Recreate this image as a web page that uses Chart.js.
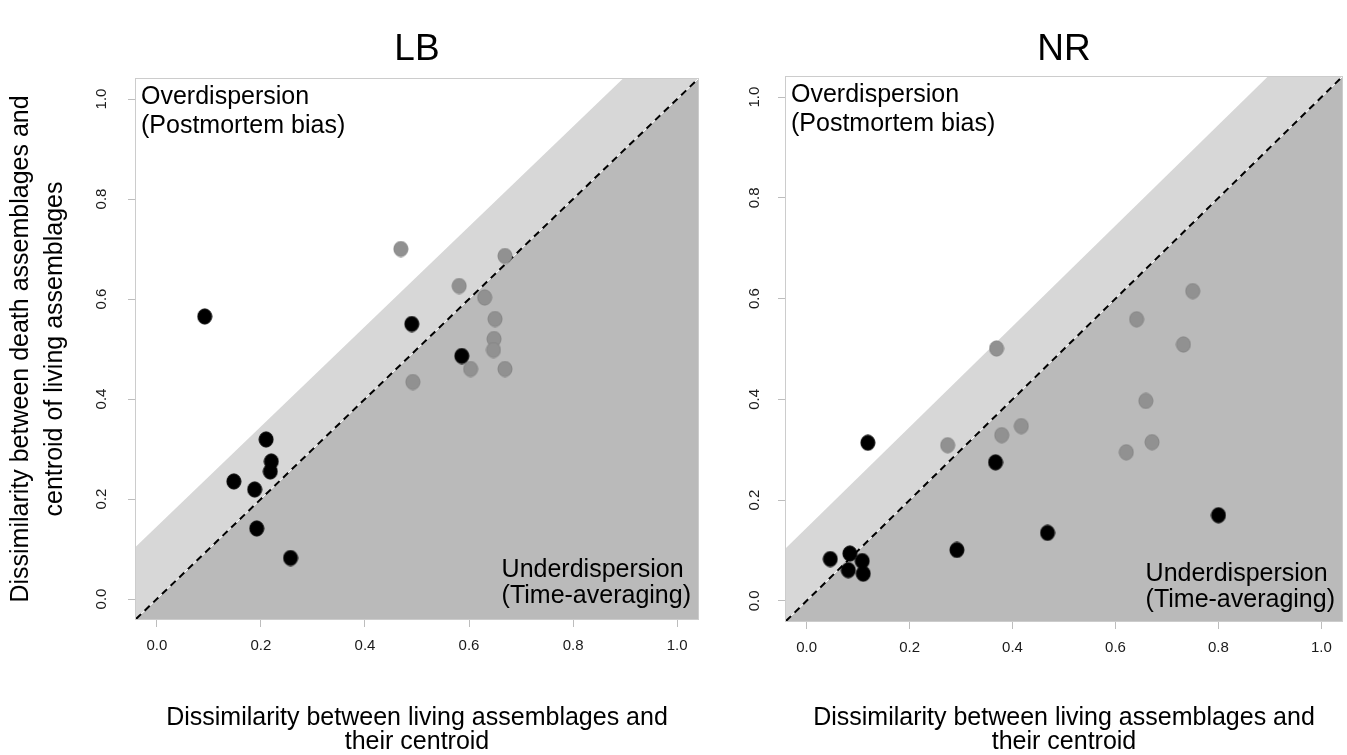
<!DOCTYPE html>
<html>
<head>
<meta charset="utf-8">
<script src="https://cdn.jsdelivr.net/npm/chart.js@4.4.1/dist/chart.umd.min.js"></script>
<style>
    body { margin: 0; background: #ffffff; }
    #wrap { position: relative; width: 1347px; height: 755px; overflow: hidden; }
    #lbChart { position: absolute; left: 0; top: 0; }
    #nrChart { position: absolute; left: 720px; top: 0; }
</style>
</head>
<body>
<div id="wrap">
    <canvas id="lbChart" width="720" height="755"></canvas>
    <canvas id="nrChart" width="627" height="755"></canvas>
</div>
<script>
// nilai sumbu (tick) dan batas plot
var tickValues = [0, 0.2, 0.4, 0.6, 0.8, 1.0];
var axisMin = -0.04;
var axisMax = 1.04;
var bandOffset = 0.145; // lebar pita abu-abu muda di atas garis 1:1

// LB - titik hitam
var lbBlackX = [0.092, 0.490, 0.586, 0.210, 0.220, 0.218, 0.148, 0.188, 0.192, 0.257];
var lbBlackY = [0.565, 0.550, 0.486, 0.319, 0.275, 0.255, 0.235, 0.219, 0.141, 0.082];
// LB - titik abu-abu
var lbGreyX = [0.469, 0.669, 0.581, 0.630, 0.650, 0.648, 0.647, 0.603, 0.669, 0.492];
var lbGreyY = [0.700, 0.686, 0.626, 0.603, 0.560, 0.520, 0.498, 0.460, 0.460, 0.434];

// NR - titik hitam
var nrBlackX = [0.119, 0.367, 0.468, 0.800, 0.292, 0.046, 0.084, 0.108, 0.081, 0.110];
var nrBlackY = [0.314, 0.275, 0.135, 0.170, 0.101, 0.083, 0.094, 0.079, 0.061, 0.054];
// NR - titik abu-abu
var nrGreyX = [0.750, 0.641, 0.732, 0.369, 0.659, 0.417, 0.379, 0.671, 0.274, 0.621];
var nrGreyY = [0.615, 0.559, 0.509, 0.501, 0.397, 0.347, 0.329, 0.315, 0.309, 0.295];

var fontFamily = "'Liberation Sans', Arial, Helvetica, sans-serif";

function toPoints(xs, ys) {
    return xs.map(function (x, i) {
        return { x: x, y: ys[i] };
    });
}

// titik berbentuk elips (seperti pch 19 di R)
function makeDot(fill, stroke) {
    var c = document.createElement("canvas");
    c.width = 16;
    c.height = 17;
    var g = c.getContext("2d");
    g.beginPath();
    g.ellipse(8, 8.5, 7, 7.6, 0, 0, Math.PI * 2);
    g.fillStyle = fill;
    g.fill();
    g.lineWidth = 1;
    g.strokeStyle = stroke;
    g.stroke();
    return c;
}

var blackDot = makeDot("#000000", "#000000");
var greyDot = makeDot("#919191", "#848484");

// plugin untuk kotak plot dan semua teks
var panelText = {
    id: "panelText",
    beforeDatasetsDraw: function (chart) {
        var ctx = chart.ctx;
        var a = chart.chartArea;
        ctx.save();
        ctx.strokeStyle = "#cccccc";
        ctx.lineWidth = 1;
        ctx.strokeRect(a.left - 0.5, a.top - 0.5, a.width + 1, a.height + 1);
        ctx.restore();
    },
    afterDraw: function (chart) {
        var o = chart.options.plugins.panelText;
        var ctx = chart.ctx;
        var a = chart.chartArea;
        var cx = (a.left + a.right) / 2;
        ctx.save();
        ctx.fillStyle = "#000000";

        // judul panel
        ctx.font = "37px " + fontFamily;
        ctx.textAlign = "center";
        ctx.textBaseline = "alphabetic";
        ctx.fillText(o.title, cx, 60);

        // label di dalam plot
        ctx.font = "25px " + fontFamily;
        ctx.textAlign = "left";
        ctx.fillText("Overdispersion", a.left + 5, a.top + 25);
        ctx.fillText("(Postmortem bias)", a.left + 5, a.top + 54);
        var w = ctx.measureText("(Time-averaging)").width;
        var ux = a.right - 7 - w;
        ctx.fillText("Underdispersion", ux, a.bottom - 42 + o.underShift);
        ctx.fillText("(Time-averaging)", ux, a.bottom - 16 + o.underShift);

        // judul sumbu x
        ctx.font = "25px " + fontFamily;
        ctx.textAlign = "center";
        ctx.textBaseline = "middle";
        ctx.fillText("Dissimilarity between living assemblages and", cx, 718);
        ctx.fillText("their centroid", cx, 742);

        // judul sumbu y (hanya panel kiri)
        if (o.yTitle) {
            var cy = (a.top + a.bottom) / 2;
            ctx.translate(0, cy);
            ctx.rotate(-Math.PI / 2);
            ctx.fillText("Dissimilarity between death assemblages and", 0, 21);
            ctx.fillText("centroid of living assemblages", 0, 55);
        }
        ctx.restore();
    },
};

function setTicks(scale) {
    scale.ticks = tickValues.map(function (v) {
        return { value: v };
    });
}

function buildChart(canvasId, cfg) {
    var ctx = document.getElementById(canvasId).getContext("2d");
    return new Chart(ctx, {
        type: "scatter",
        data: {
            datasets: [
                {
                    label: "black",
                    data: toPoints(cfg.blackX, cfg.blackY),
                    pointStyle: blackDot,
                    order: 0,
                },
                {
                    label: "grey",
                    data: toPoints(cfg.greyX, cfg.greyY),
                    pointStyle: greyDot,
                    order: 1,
                },
                {
                    type: "line",
                    label: "1:1",
                    data: [
                        { x: axisMin, y: axisMin },
                        { x: axisMax, y: axisMax },
                    ],
                    borderColor: "#000000",
                    borderWidth: 2,
                    borderDash: [7, 5],
                    pointRadius: 0,
                    fill: false,
                    order: 2,
                },
                {
                    type: "line",
                    label: "edge",
                    data: [
                        { x: axisMin, y: axisMin },
                        { x: axisMax, y: axisMax },
                    ],
                    borderColor: "#ffffff",
                    borderWidth: 1,
                    pointRadius: 0,
                    fill: false,
                    order: 3,
                },
                {
                    type: "line",
                    label: "under",
                    data: [
                        { x: axisMin, y: axisMin },
                        { x: axisMax, y: axisMax },
                    ],
                    borderWidth: 0,
                    borderColor: "rgba(0,0,0,0)",
                    backgroundColor: "#bababa",
                    pointRadius: 0,
                    fill: "start",
                    order: 4,
                },
                {
                    type: "line",
                    label: "band",
                    data: [
                        { x: axisMin, y: axisMin + bandOffset },
                        { x: axisMax - bandOffset, y: axisMax },
                        { x: axisMax, y: axisMax },
                    ],
                    borderWidth: 0,
                    borderColor: "rgba(0,0,0,0)",
                    backgroundColor: "#d7d7d7",
                    pointRadius: 0,
                    fill: "start",
                    order: 5,
                },
            ],
        },
        options: {
            responsive: false,
            animation: false,
            events: [],
            layout: {
                padding: { left: 0, right: cfg.padRight, top: cfg.padTop, bottom: 0 },
            },
            plugins: {
                legend: { display: false },
                tooltip: { enabled: false },
                panelText: {
                    title: cfg.title,
                    yTitle: cfg.yTitle,
                    underShift: cfg.underShift,
                },
            },
            scales: {
                x: {
                    type: "linear",
                    position: "bottom",
                    min: axisMin,
                    max: axisMax,
                    afterBuildTicks: setTicks,
                    afterFit: function (scale) {
                        scale.height = cfg.xHeight;
                    },
                    border: { display: false },
                    grid: {
                        drawOnChartArea: false,
                        drawTicks: true,
                        tickLength: 8,
                        color: "#bdbdbd",
                    },
                    ticks: {
                        padding: 10,
                        color: "#1a1a1a",
                        font: { size: 15, family: fontFamily },
                        callback: function (v) {
                            return v.toFixed(1);
                        },
                    },
                },
                y: {
                    type: "linear",
                    position: "left",
                    min: axisMin,
                    max: axisMax,
                    afterBuildTicks: setTicks,
                    afterFit: function (scale) {
                        scale.width = cfg.yWidth;
                    },
                    border: { display: false },
                    grid: {
                        drawOnChartArea: false,
                        drawTicks: true,
                        tickLength: 8,
                        color: "#bdbdbd",
                    },
                    ticks: {
                        padding: cfg.yPad,
                        minRotation: 90,
                        maxRotation: 90,
                        crossAlign: "center",
                        color: "#1a1a1a",
                        font: { size: 15, family: fontFamily },
                        callback: function (v) {
                            return v.toFixed(1);
                        },
                    },
                },
            },
        },
        plugins: [panelText],
    });
}

document.addEventListener("DOMContentLoaded", function () {
    buildChart("lbChart", {
        title: "LB",
        yTitle: true,
        blackX: lbBlackX,
        blackY: lbBlackY,
        greyX: lbGreyX,
        greyY: lbGreyY,
        padTop: 79,
        padRight: 22,
        yWidth: 136,
        xHeight: 136,
        yPad: 16,
        underShift: 0,
    });

    buildChart("nrChart", {
        title: "NR",
        yTitle: false,
        blackX: nrBlackX,
        blackY: nrBlackY,
        greyX: nrGreyX,
        greyY: nrGreyY,
        padTop: 77,
        padRight: 1,
        yWidth: 66,
        xHeight: 134,
        yPad: 13,
        underShift: 2,
    });
});
</script>
</body>
</html>
